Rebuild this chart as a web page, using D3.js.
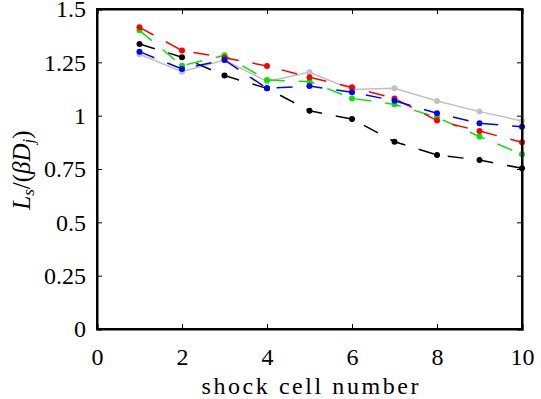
<!DOCTYPE html>
<html><head><meta charset="utf-8">
<script src="https://cdn.jsdelivr.net/npm/d3@7"></script>
<style>body{margin:0;background:#fff}svg{display:block}
svg text{font-family:"Liberation Serif","Times New Roman",serif !important;}</style>
</head><body>
<script>
const cells = [1,2,3,4,5,6,7,8,9,10];
const blackVals = [1.336,1.274,1.188,1.128,1.023,0.984,0.878,0.816,0.792,0.753];
const redVals   = [1.414,1.305,1.272,1.233,1.180,1.133,1.081,0.977,0.928,0.875];
const greenVals = [1.400,1.234,1.283,1.167,1.160,1.081,1.053,0.992,0.902,0.819];
const blueVals  = [1.300,1.219,1.261,1.128,1.139,1.110,1.070,1.011,0.964,0.948];
const grayVals  = [1.288,1.206,1.261,1.160,1.203,1.123,1.128,1.069,1.019,0.975];
const xTicks = [0,2,4,6,8,10];
const yTicks = [0,0.25,0.5,0.75,1,1.25,1.5];
const yTickLabels = ["0","0.25","0.5","0.75","1","1.25","1.5"];

const W=541,H=399, L=97,R=522,T=9,B=329;
const FONT="Liberation Serif";
const svg=d3.select("body").append("svg").attr("width",W).attr("height",H)
  .attr("font-family",FONT);
const x=d3.scaleLinear().domain([0,10]).range([L,R]);
const y=d3.scaleLinear().domain([0,1.5]).range([B,T]);

const series=[
 {vals:grayVals,color:"#c0c0c0",dash:null},
 {vals:blackVals,color:"#000000",dash:"16,14"},
 {vals:greenVals,color:"#00e600",dash:"16,14"},
 {vals:redVals,color:"#ff0000",dash:"16,14"},
 {vals:blueVals,color:"#0000ff",dash:"16,14"}
];
const line=d3.line().x((d,i)=>x(cells[i])).y(d=>y(d));
series.forEach(s=>{
  svg.append("path").datum(s.vals).attr("d",line).attr("fill","none")
    .attr("stroke",s.color).attr("stroke-width",1.5)
    .attr("stroke-dasharray",s.dash);
  svg.selectAll(null).data(s.vals).enter().append("circle")
    .attr("cx",(d,i)=>x(cells[i])).attr("cy",d=>y(d)).attr("r",3).attr("fill",s.color);
});

// axes
const xb=svg.append("g").attr("transform",`translate(0,${B})`)
  .call(d3.axisBottom(x).tickValues(xTicks).tickSize(-5).tickPadding(19).tickFormat(d3.format("d")));
const xt=svg.append("g").attr("transform",`translate(0,${T})`)
  .call(d3.axisTop(x).tickValues(xTicks).tickSize(-5).tickFormat(""));
const yl=svg.append("g").attr("transform",`translate(${L},0)`)
  .call(d3.axisLeft(y).tickValues(yTicks).tickSize(-5).tickPadding(11).tickFormat((d,i)=>yTickLabels[i]));
const yr=svg.append("g").attr("transform",`translate(${R},0)`)
  .call(d3.axisRight(y).tickValues(yTicks).tickSize(-5).tickFormat(""));
[xb,xt,yl,yr].forEach(g=>{
  g.attr("font-family",FONT).attr("font-size",24);
  g.select(".domain").attr("stroke","#000").attr("stroke-width",2);
  g.selectAll(".tick line").attr("stroke","#000").attr("stroke-width",1);
  g.selectAll("text").attr("font-family",FONT).attr("font-size",24).attr("fill","#000");
});
svg.append("rect").attr("x",L).attr("y",T).attr("width",R-L).attr("height",B-T)
  .attr("fill","none").attr("stroke","#000").attr("stroke-width",2);

svg.append("text").attr("x",310).attr("y",394).attr("text-anchor","middle")
  .attr("font-family",FONT).attr("font-size",24)
  .attr("textLength",217).attr("lengthAdjust","spacing").text("shock cell number");

const yt=svg.append("text").attr("transform","translate(30,170) rotate(-90)")
  .attr("text-anchor","middle").attr("font-family",FONT).attr("font-size",25).attr("font-style","italic");
yt.append("tspan").text("L");
yt.append("tspan").attr("font-size",17).attr("dy",4).text("s");
yt.append("tspan").attr("dy",-4).attr("font-style","normal").text("/(");
yt.append("tspan").text("βD");
yt.append("tspan").attr("font-size",17).attr("dy",4).text("j");
yt.append("tspan").attr("dy",-4).attr("font-style","normal").text(")");
</script>
</body></html>
